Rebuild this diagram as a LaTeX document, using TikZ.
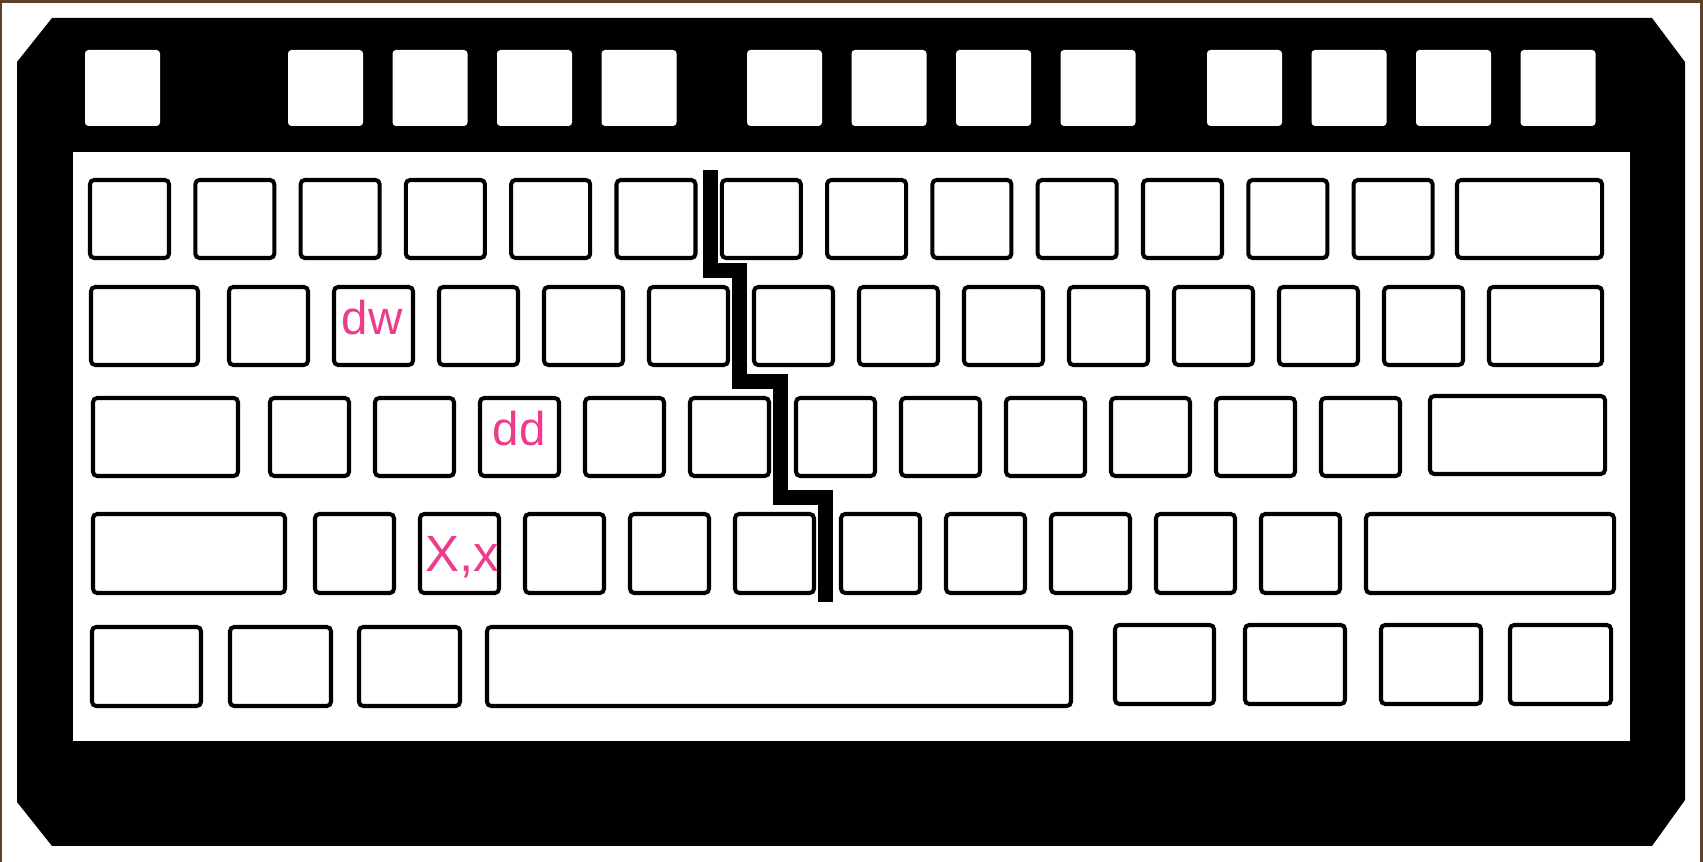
\documentclass[tikz,border=0pt]{standalone}
\usepackage{fontspec}
\newfontfamily\labelfont{Liberation Sans}
\definecolor{labelpink}{RGB}{238,60,140}
\definecolor{framebrown}{RGB}{92,66,38}

\begin{document}
\begin{tikzpicture}[
  x=0.01cm, y=-0.01cm,
  body/.style={fill=black},
  panel/.style={fill=white},
  fkey/.style={fill=white, rounded corners=1pt},
  keycap/.style={draw=black, line width=1.15pt, fill=white, rounded corners=1.2pt},
  crack/.style={draw=black, line width=0.15cm},
  keylabel/.style={text=labelpink, inner sep=0pt, anchor=base west, font=\labelfont\fontsize{13.5}{13.5}\selectfont}
  ]
  % frame, case and key panel
  \fill[framebrown] (0,0) rectangle (1703,862);
  \fill[white] (2,3) rectangle (1700,862);
  \fill[body] (52,18) -- (1652,18) -- (1685,62) -- (1685,800) -- (1652,846)
    -- (52,846) -- (17,802) -- (17,62) -- cycle;
  \fill[panel] (73,152) rectangle (1630,741);

  % function row
  \fill[fkey] (85,50) rectangle (160,126);
  \foreach \gx in {288,747,1207}
    \foreach \k in {0,...,3}
      \fill[fkey] (\gx+104.5*\k,50) rectangle (\gx+104.5*\k+75,126);

  % Row 1: number keys
  \foreach \k in {0,...,12}
    \draw[keycap] (90+105.3*\k,180) rectangle (169+105.3*\k,258);
  \draw[keycap] (1457,180) rectangle (1602,258);

  % Row 2
  \draw[keycap] (91,287) rectangle (198,365);
  \foreach \k in {0,...,11}
    \draw[keycap] (229+105*\k,287) rectangle (308+105*\k,365);
  \draw[keycap] (1489,287) rectangle (1602,365);

  % Row 3
  \draw[keycap] (93,398) rectangle (238,476);
  \foreach \k in {0,...,4}
    \draw[keycap] (270+105*\k,398) rectangle (349+105*\k,476);
  \foreach \k in {0,...,5}
    \draw[keycap] (796+105*\k,398) rectangle (875+105*\k,476);
  \draw[keycap] (1430,396) rectangle (1605,474);

  % Row 4
  \draw[keycap] (93,514) rectangle (285,593);
  \foreach \k in {0,...,4}
    \draw[keycap] (315+105*\k,514) rectangle (394+105*\k,593);
  \foreach \k in {0,...,4}
    \draw[keycap] (841+105*\k,514) rectangle (920+105*\k,593);
  \draw[keycap] (1366,514) rectangle (1614,593);

  % Row 5: modifiers and space bar
  \foreach \a/\b in {92/201, 230/331, 359/460, 487/1071}
    \draw[keycap] (\a,627) rectangle (\b,706);
  \foreach \a/\b in {1115/1214, 1245/1345, 1381/1481, 1510/1611}
    \draw[keycap] (\a,625) rectangle (\b,704);

  % split line between the hands
  \coordinate (crack-top) at (710.5,170);
  \coordinate (crack-end) at (825.5,602);
  \draw[crack] (crack-top) |- (739.5,270.5) |- (780.5,381.5) |- (825.5,498) -- (crack-end);

  % key labels
  \node[keylabel] (lbl-dw) at (341,335) {dw};
  \node[keylabel] (lbl-dd) at (492,446) {dd};
  \node[keylabel, font=\labelfont\fontsize{14.5}{14.5}\selectfont] (lbl-xx) at (425,572) {X,x};
\end{tikzpicture}
\end{document}
